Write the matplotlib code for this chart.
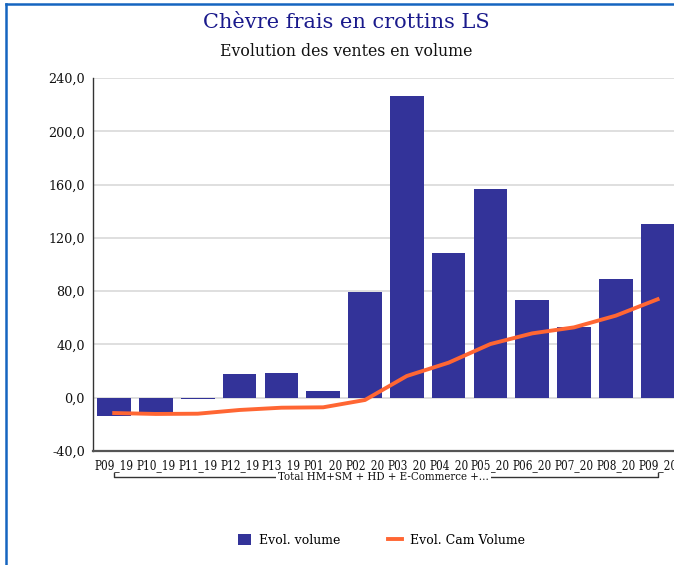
import matplotlib.pyplot as plt
from matplotlib.lines import Line2D
from matplotlib.patches import Patch
from matplotlib.transforms import blended_transform_factory

periods = ["P09_19", "P10_19", "P11_19", "P12_19", "P13_19", "P01_20", "P02_20",
           "P03_20", "P04_20", "P05_20", "P06_20", "P07_20", "P08_20", "P09_20"]
evol_volume = [-13.5, -10.7, -1.0, 17.8, 18.5, 5.0, 79.6,
               226.7, 108.6, 156.7, 73.3, 53.1, 89.1, 130.4]
evol_cam_volume = [-11.5, -12.2, -12.0, -9.2, -7.5, -7.2, -1.7,
                   16.3, 26.3, 40.3, 48.3, 52.8, 61.6, 73.9]
y_ticks = [-40, 0, 40, 80, 120, 160, 200, 240]
group_label = "Total HM+SM + HD + E-Commerce +..."

plt.rcParams['font.family'] = ['DejaVu Serif']

W, H = 674, 565
fig = plt.figure(figsize=(W / 100, H / 100), dpi=100)
ax = fig.add_axes([93.3 / W, 1 - 451 / H, 585.2 / W, 373 / H])

x = range(len(periods))
ax.bar(x, evol_volume, width=0.8, color="#333399", zorder=2)
ax.plot(x, evol_cam_volume, color="#FF6633", linewidth=2.8, zorder=3)

ax.set_xlim(-0.5, len(periods) - 0.5)
ax.set_ylim(-40, 240)
ax.set_yticks(y_ticks)
ax.set_yticklabels([f"{v:.1f}".replace(".", ",") for v in y_ticks])
ax.set_xticks(list(x))
ax.set_xticklabels(periods, fontstretch="condensed", fontsize=8.4)
ax.tick_params(axis="both", length=0, colors="#111111")
ax.tick_params(axis="x", pad=6)
ax.tick_params(axis="y", pad=6, labelsize=9.2)
ax.grid(axis="y", color="#d9d9d9", linewidth=1.2, zorder=0)

for s in ["top", "right"]:
    ax.spines[s].set_visible(False)
ax.spines["left"].set_color("#333333")
ax.spines["left"].set_linewidth(1.0)
ax.spines["bottom"].set_color("#555555")
ax.spines["bottom"].set_linewidth(1.6)

# group bracket under the category labels
tr = blended_transform_factory(ax.transData, ax.transAxes)
yb = -(477 - 451) / 373
yt = -(473 - 451) / 373
ax.plot([0, 0, len(periods) - 1, len(periods) - 1], [yt, yb, yb, yt],
        transform=tr, color="#333333", linewidth=1.0, clip_on=False)
ax.text((len(periods) - 1) / 2 - 0.05, yb, group_label, transform=tr, ha="center", va="center",
        fontsize=8.2, fontstretch="condensed", color="#111111",
        bbox=dict(facecolor="white", edgecolor="none", pad=1.5))

# titles
fig.text(346 / W, 1 - 22 / H, "Chèvre frais en crottins LS", ha="center", va="center",
         fontsize=15, color="#1a1a8c")
fig.text(346 / W, 1 - 52 / H, "Evolution des ventes en volume", ha="center", va="center",
         fontsize=11.3, color="#111111")

# legend
handles = [Patch(facecolor="#333399", edgecolor="none"),
           Line2D([0], [0], color="#FF6633", linewidth=2.8)]
fig.legend(handles, ["Evol. volume", "Evol. Cam Volume"], loc="center",
           bbox_to_anchor=(381 / W, 1 - 540 / H), ncol=2, frameon=False,
           fontsize=9, handlelength=1.1, handleheight=1.0, columnspacing=3.85,
           handletextpad=0.6)

# outer frame
fig.add_artist(Line2D([5.5 / W, 5.5 / W], [0, 1 - 4 / H], color="#1565c0",
                      linewidth=1.8, transform=fig.transFigure))
fig.add_artist(Line2D([5.5 / W, 1], [1 - 4 / H, 1 - 4 / H], color="#1565c0",
                      linewidth=1.8, transform=fig.transFigure))

fig.savefig("out.png", dpi=100)
